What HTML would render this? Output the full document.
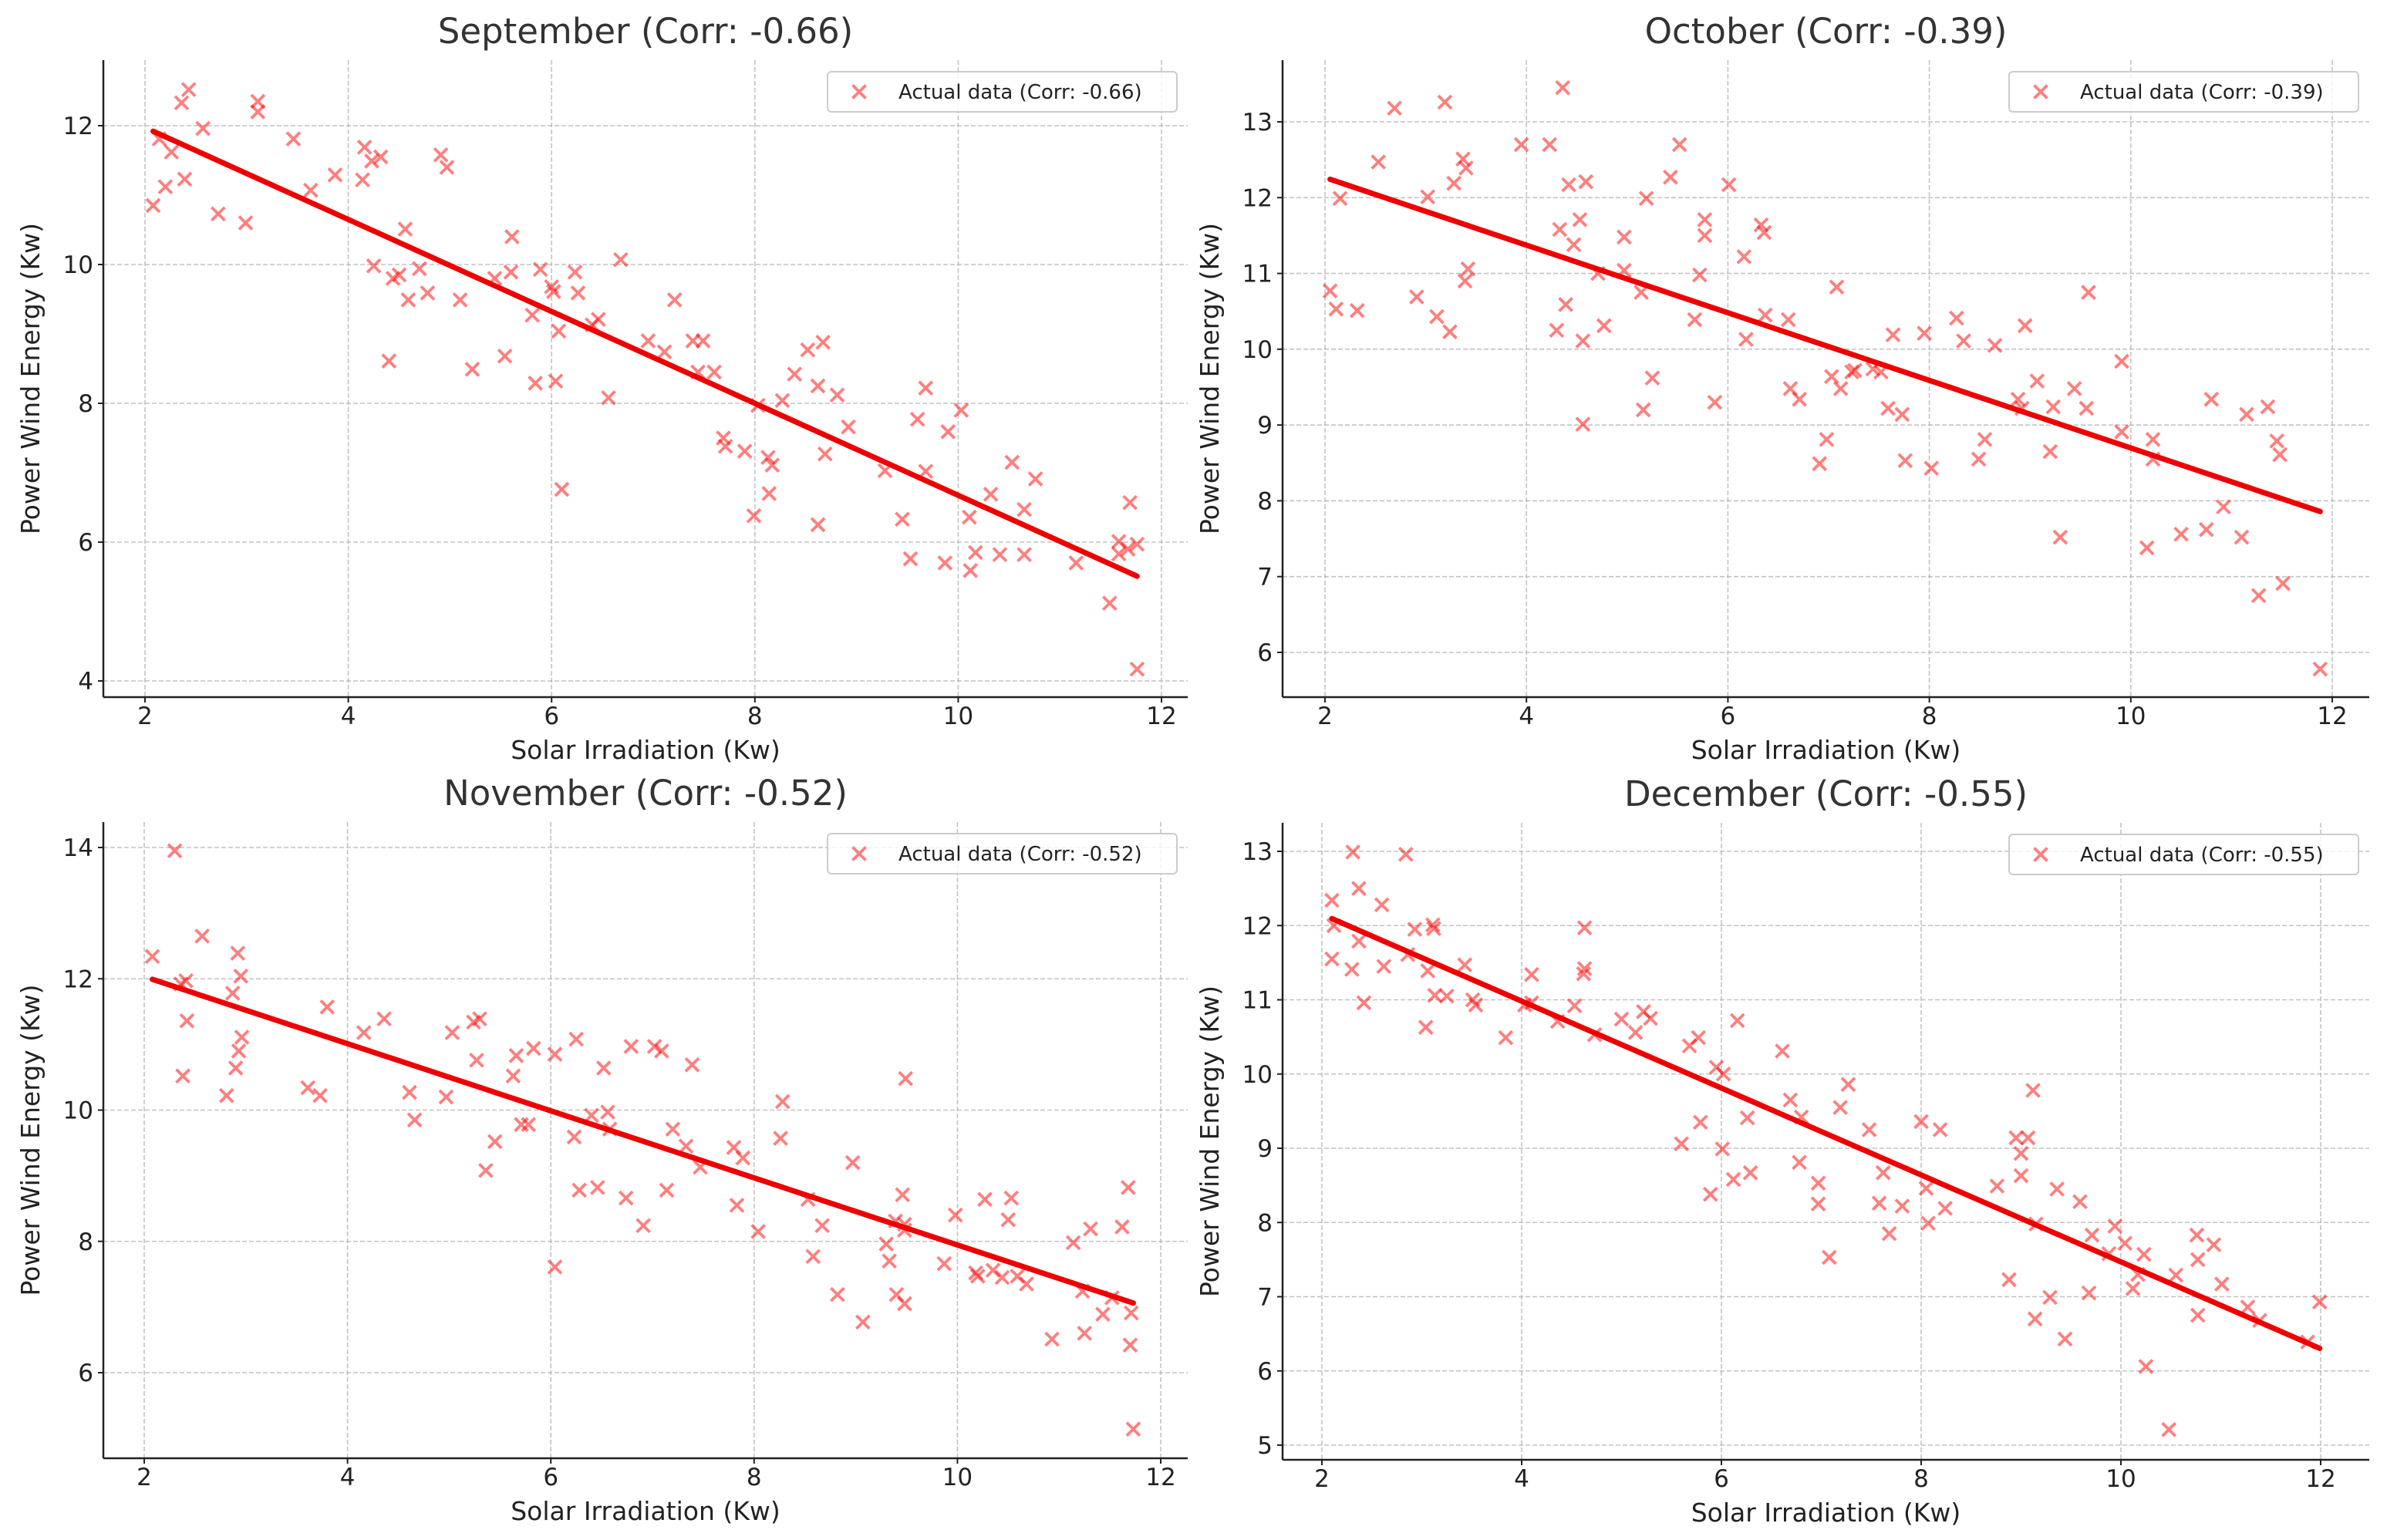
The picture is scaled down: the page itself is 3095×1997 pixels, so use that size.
<!DOCTYPE html>
<html><head><meta charset="utf-8">
<style>
html,body{margin:0;padding:0;background:#fff;}
svg{display:block;font-family:"DejaVu Sans","Liberation Sans",sans-serif;}
</style></head>
<body>
<svg id="fig" width="3095" height="1997" viewBox="0 0 3095 1997" xmlns="http://www.w3.org/2000/svg">
<rect width="3095" height="1997" fill="#fff"/>
</svg>
<script>
// ---- September data ----
const sepX = [2.08,2.14,2.2,2.26,2.36,2.43,2.39,2.57,2.72,2.99,3.11,3.11,3.46,3.63,3.87,4.14,4.16,4.23,4.32,4.25,4.4,4.44,4.5,4.56,4.59,4.7,4.78,4.91,4.97,5.1,5.22,5.44,5.54,5.61,5.6,5.81,5.84,5.89,6.0,6.02,6.04,6.07,6.1,6.23,6.26,6.4,6.46,6.56,6.68,6.95,7.11,7.21,7.39,7.49,7.44,7.6,7.69,7.71,7.9,7.99,8.03,8.13,8.17,8.14,8.27,8.39,8.52,8.67,8.62,8.62,8.69,8.81,8.92,9.28,9.45,9.53,9.6,9.68,9.68,9.87,9.9,10.03,10.11,10.12,10.17,10.32,10.41,10.53,10.65,10.65,10.76,11.16,11.49,11.58,11.58,11.69,11.67,11.76,11.76];
const sepY = [10.85,11.81,11.12,11.62,12.33,12.52,11.23,11.96,10.73,10.6,12.35,12.2,11.81,11.07,11.29,11.22,11.69,11.49,11.55,9.98,8.61,9.8,9.85,10.51,9.49,9.94,9.59,11.58,11.4,9.49,8.49,9.8,8.68,10.4,9.89,9.27,8.29,9.93,9.68,9.61,8.32,9.04,6.76,9.89,9.59,9.13,9.21,8.08,10.07,8.9,8.74,9.49,8.9,8.9,8.45,8.45,7.5,7.38,7.31,6.38,7.97,7.22,7.11,6.7,8.04,8.42,8.77,8.88,8.25,6.25,7.27,8.12,7.66,7.03,6.33,5.76,7.77,8.22,7.02,5.7,7.59,7.9,6.36,5.59,5.85,6.69,5.82,7.15,6.47,5.82,6.91,5.7,5.12,6.01,5.83,6.57,5.9,5.97,4.17];
// ---- October data ----
const octX = [2.05,2.11,2.15,2.32,2.53,2.69,2.91,3.02,3.11,3.19,3.24,3.28,3.37,3.4,3.39,3.42,3.95,4.23,4.3,4.33,4.36,4.39,4.42,4.47,4.53,4.56,4.59,4.56,4.71,4.77,4.97,4.97,5.14,5.16,5.19,5.25,5.43,5.52,5.67,5.72,5.77,5.77,5.87,6.01,6.16,6.18,6.33,6.36,6.37,6.6,6.62,6.71,6.91,6.98,7.03,7.08,7.12,7.23,7.26,7.44,7.52,7.59,7.64,7.73,7.76,7.95,8.02,8.27,8.34,8.49,8.55,8.65,8.88,8.92,8.95,9.07,9.2,9.23,9.3,9.44,9.56,9.58,9.91,9.91,10.16,10.22,10.22,10.5,10.75,10.8,10.92,11.1,11.15,11.27,11.36,11.45,11.48,11.51,11.88];
const octY = [10.77,10.53,11.99,10.51,12.47,13.18,10.69,12.01,10.43,13.26,10.23,12.19,12.51,12.39,10.9,11.06,12.7,12.7,10.25,11.58,13.45,10.59,12.17,11.38,11.71,10.11,12.21,9.01,11.0,10.31,11.48,11.04,10.75,9.2,11.99,9.62,12.27,12.7,10.39,10.98,11.5,11.71,9.3,12.17,11.22,10.13,11.64,11.54,10.45,10.39,9.48,9.34,8.49,8.81,9.64,10.82,9.48,9.7,9.72,9.74,9.7,9.22,10.19,9.14,8.53,10.21,8.43,10.41,10.11,8.55,8.81,10.05,9.34,9.22,10.31,9.58,8.65,9.24,7.52,9.48,9.22,10.75,9.84,8.91,7.38,8.81,8.55,7.56,7.62,9.34,7.92,7.52,9.14,6.75,9.24,8.79,8.61,6.91,5.78];
// ---- November data ----
const novX = [2.08,2.3,2.36,2.38,2.41,2.42,2.57,2.81,2.87,2.92,2.9,2.95,2.93,2.96,3.61,3.73,3.8,4.16,4.36,4.61,4.66,4.97,5.03,5.24,5.27,5.3,5.36,5.45,5.63,5.66,5.71,5.78,5.83,6.04,6.04,6.23,6.25,6.28,6.4,6.46,6.52,6.56,6.58,6.74,6.79,6.91,7.02,7.09,7.14,7.2,7.33,7.39,7.47,7.8,7.83,7.89,8.04,8.28,8.26,8.53,8.58,8.67,8.82,8.97,9.07,9.3,9.33,9.39,9.4,9.46,9.48,9.48,9.48,9.49,9.87,9.98,10.18,10.2,10.27,10.35,10.44,10.5,10.53,10.59,10.68,10.93,11.14,11.23,11.25,11.31,11.43,11.52,11.62,11.68,11.7,11.71,11.73];
const novY = [12.34,13.95,11.92,10.52,11.97,11.36,12.65,10.22,11.78,12.39,10.64,12.04,10.9,11.11,10.34,10.22,11.57,11.18,11.39,10.27,9.85,10.2,11.18,11.34,10.76,11.39,9.08,9.52,10.52,10.83,9.78,9.78,10.94,10.85,7.61,9.59,11.08,8.78,9.92,8.82,10.64,9.97,9.71,8.66,10.97,8.24,10.97,10.9,8.78,9.71,9.45,10.69,9.13,9.43,8.55,9.27,8.15,10.13,9.57,8.64,7.77,8.24,7.19,9.2,6.77,7.96,7.7,8.31,7.19,8.71,8.26,7.05,8.17,10.48,7.66,8.4,7.52,7.47,8.64,7.56,7.45,8.33,8.66,7.47,7.35,6.51,7.98,7.24,6.6,8.19,6.89,7.14,8.22,8.82,6.42,6.91,5.14];
// ---- December data ----
const decX = [2.1,2.1,2.12,2.31,2.3,2.37,2.37,2.42,2.6,2.62,2.84,2.86,2.93,3.06,3.04,3.11,3.12,3.13,3.25,3.43,3.51,3.54,3.84,4.03,4.1,4.1,4.36,4.53,4.63,4.63,4.62,4.73,5.0,5.14,5.22,5.29,5.6,5.68,5.77,5.79,5.89,5.95,6.02,6.01,6.12,6.16,6.26,6.29,6.61,6.69,6.8,6.78,6.97,6.97,7.08,7.19,7.27,7.48,7.62,7.58,7.68,7.81,8.0,8.05,8.07,8.19,8.24,8.76,8.88,8.95,9.07,9.0,9.0,9.12,9.15,9.14,9.29,9.36,9.44,9.59,9.68,9.71,9.88,9.94,10.04,10.12,10.17,10.23,10.25,10.48,10.55,10.76,10.77,10.77,10.93,11.01,11.27,11.39,11.87,11.99];
const decY = [12.34,11.55,12.0,12.99,11.41,12.5,11.79,10.96,12.28,11.45,12.96,11.61,11.95,11.39,10.63,12.01,11.96,11.06,11.05,11.47,11.0,10.93,10.49,10.93,10.96,11.34,10.71,10.92,11.97,11.42,11.35,10.53,10.74,10.56,10.84,10.75,9.06,10.38,10.49,9.35,8.38,10.09,10.0,8.99,8.58,10.72,9.41,8.67,10.31,9.65,9.42,8.81,8.53,8.25,7.53,9.55,9.86,9.25,8.67,8.26,7.85,8.22,9.36,8.46,7.99,9.25,8.19,8.49,7.23,9.14,9.14,8.93,8.63,9.78,7.98,6.7,6.99,8.45,6.43,8.28,7.05,7.83,7.58,7.95,7.72,7.11,7.3,7.57,6.06,5.21,7.29,7.83,7.5,6.75,7.7,7.17,6.86,6.68,6.39,6.93];

const months = ["September","October","November","December"];
const corrs = ["-0.66","-0.39","-0.52","-0.55"];
const xTicks = [2,4,6,8,10,12];
const yTicksSep = [4,6,8,10,12];
const yTicksOct = [6,7,8,9,10,11,12,13];
const yTicksNov = [6,8,10,12,14];
const yTicksDec = [5,6,7,8,9,10,11,12,13];

const NS = "http://www.w3.org/2000/svg";
const fig = document.getElementById('fig');
function mk(tag, attrs, parent){
  const e = document.createElementNS(NS, tag);
  for (const k in attrs) e.setAttribute(k, attrs[k]);
  (parent||fig).appendChild(e);
  return e;
}

const panels = [
  {key:'sep', xs:sepX, ys:sepY, yt:yTicksSep, L:134, R:1540, T:78, B:904, x2:188, x12:1506, ya:12, yaP:163, yb:4, ybP:883, legT:93},
  {key:'oct', xs:octX, ys:octY, yt:yTicksOct, L:1663, R:3072, T:78, B:904, x2:1718, x12:3024, ya:13, yaP:158, yb:6, ybP:846, legT:93},
  {key:'nov', xs:novX, ys:novY, yt:yTicksNov, L:134, R:1540, T:1066, B:1891, x2:187, x12:1505, ya:14, yaP:1099, yb:6, ybP:1780, legT:1081},
  {key:'dec', xs:decX, ys:decY, yt:yTicksDec, L:1663, R:3072, T:1067, B:1893, x2:1714, x12:3009, ya:13, yaP:1104, yb:5, ybP:1874, legT:1082}
];

panels.forEach((p, i) => {
  const g = mk('g', {});
  
  
  const xScale = v => p.x2 + (v - 2) * (p.x12 - p.x2) / 10;
  const yScale = v => p.yaP + (v - p.ya) * (p.ybP - p.yaP) / (p.yb - p.ya);

  xTicks.forEach(t => {
    const X = xScale(t);
    const l = mk('line', {x1:X, x2:X, y1:p.T, y2:p.B, stroke:'#b0b0b0', 'stroke-width':1.6, 'stroke-dasharray':'6 3', opacity:0.75}, g);
    
    
    const tk = mk('line', {x1:X, x2:X, y1:p.B, y2:p.B+7, stroke:'#222', 'stroke-width':2}, g);
    
    
    const tl = mk('text', {x:X, y:p.B+35, 'font-size':31, 'text-anchor':'middle', fill:'#222'}, g);
    tl.textContent = t;
    
    
  });
  p.yt.forEach(t => {
    const Y = yScale(t);
    const l = mk('line', {x1:p.L, x2:p.R, y1:Y, y2:Y, stroke:'#b0b0b0', 'stroke-width':1.6, 'stroke-dasharray':'6 3', opacity:0.75}, g);
    
    
    const tk = mk('line', {x1:p.L-7, x2:p.L, y1:Y, y2:Y, stroke:'#222', 'stroke-width':2}, g);
    
    
    const tl = mk('text', {x:p.L-13, y:Y+11, 'font-size':31, 'text-anchor':'end', fill:'#222'}, g);
    tl.textContent = t;
    
    
  });

  for (let k = 0; k < p.xs.length; k++) {
    const X = xScale(p.xs[k]), Y = yScale(p.ys[k]), s = 8.5;
    const pt = mk('path', {d:`M${X-s},${Y-s}L${X+s},${Y+s}M${X-s},${Y+s}L${X+s},${Y-s}`, stroke:'#ff0000', 'stroke-opacity':0.5, 'stroke-width':3.8, fill:'none'}, g);
    
    
  }

  const n = p.xs.length;
  const mx = p.xs.reduce((a,b)=>a+b,0)/n, my = p.ys.reduce((a,b)=>a+b,0)/n;
  let sxy = 0, sxx = 0;
  for (let k = 0; k < n; k++) { sxy += (p.xs[k]-mx)*(p.ys[k]-my); sxx += (p.xs[k]-mx)**2; }
  const slope = sxy/sxx, icpt = my - slope*mx;
  const xmin = Math.min(...p.xs), xmax = Math.max(...p.xs);
  const rl = mk('line', {x1:xScale(xmin), y1:yScale(icpt+slope*xmin), x2:xScale(xmax), y2:yScale(icpt+slope*xmax), stroke:'#ee0000', 'stroke-width':7, 'stroke-linecap':'round'}, g);
  
  

  const ls = mk('line', {x1:p.L, x2:p.L, y1:p.T, y2:p.B, stroke:'#222', 'stroke-width':2.5}, g);
  
  
  const bs = mk('line', {x1:p.L, x2:p.R, y1:p.B, y2:p.B, stroke:'#222', 'stroke-width':2.5}, g);
  
  

  const cx = (p.L + p.R) / 2;
  const ti = mk('text', {x:cx, y:p.T-22, 'font-size':45, 'text-anchor':'middle', fill:'#333'}, g);
  ti.textContent = months[i] + ' (Corr: ' + corrs[i] + ')';
  
  
  const xl = mk('text', {x:cx, y:p.B+80, 'font-size':33, 'text-anchor':'middle', fill:'#222'}, g);
  xl.textContent = 'Solar Irradiation (Kw)';
  
  
  const ycx = p.L - 83, ycy = (p.T + p.B) / 2;
  const yl = mk('text', {x:ycx, y:ycy, 'font-size':33, 'text-anchor':'middle', fill:'#222', transform:`rotate(-90 ${ycx} ${ycy})`}, g);
  yl.textContent = 'Power Wind Energy (Kw)';
  
  

  const lx = p.R - 467, lw = 453, lt = p.legT;
  const lg = mk('g', {}, g);
  
  
  mk('rect', {x:lx, y:lt, width:lw, height:52, rx:5, fill:'#fff', 'fill-opacity':0.8, stroke:'#cccccc', 'stroke-width':2}, lg);
  const mxp = lx + 41, myp = lt + 26, s = 8.5;
  const lm = mk('path', {d:`M${mxp-s},${myp-s}L${mxp+s},${myp+s}M${mxp-s},${myp+s}L${mxp+s},${myp-s}`, stroke:'#ff0000', 'stroke-opacity':0.5, 'stroke-width':3.8}, lg);
  
  
  const lt2 = mk('text', {x:lx+92, y:lt+35, 'font-size':26, fill:'#222'}, lg);
  lt2.textContent = 'Actual data (Corr: ' + corrs[i] + ')';
  
  
});
</script>
</body></html>
